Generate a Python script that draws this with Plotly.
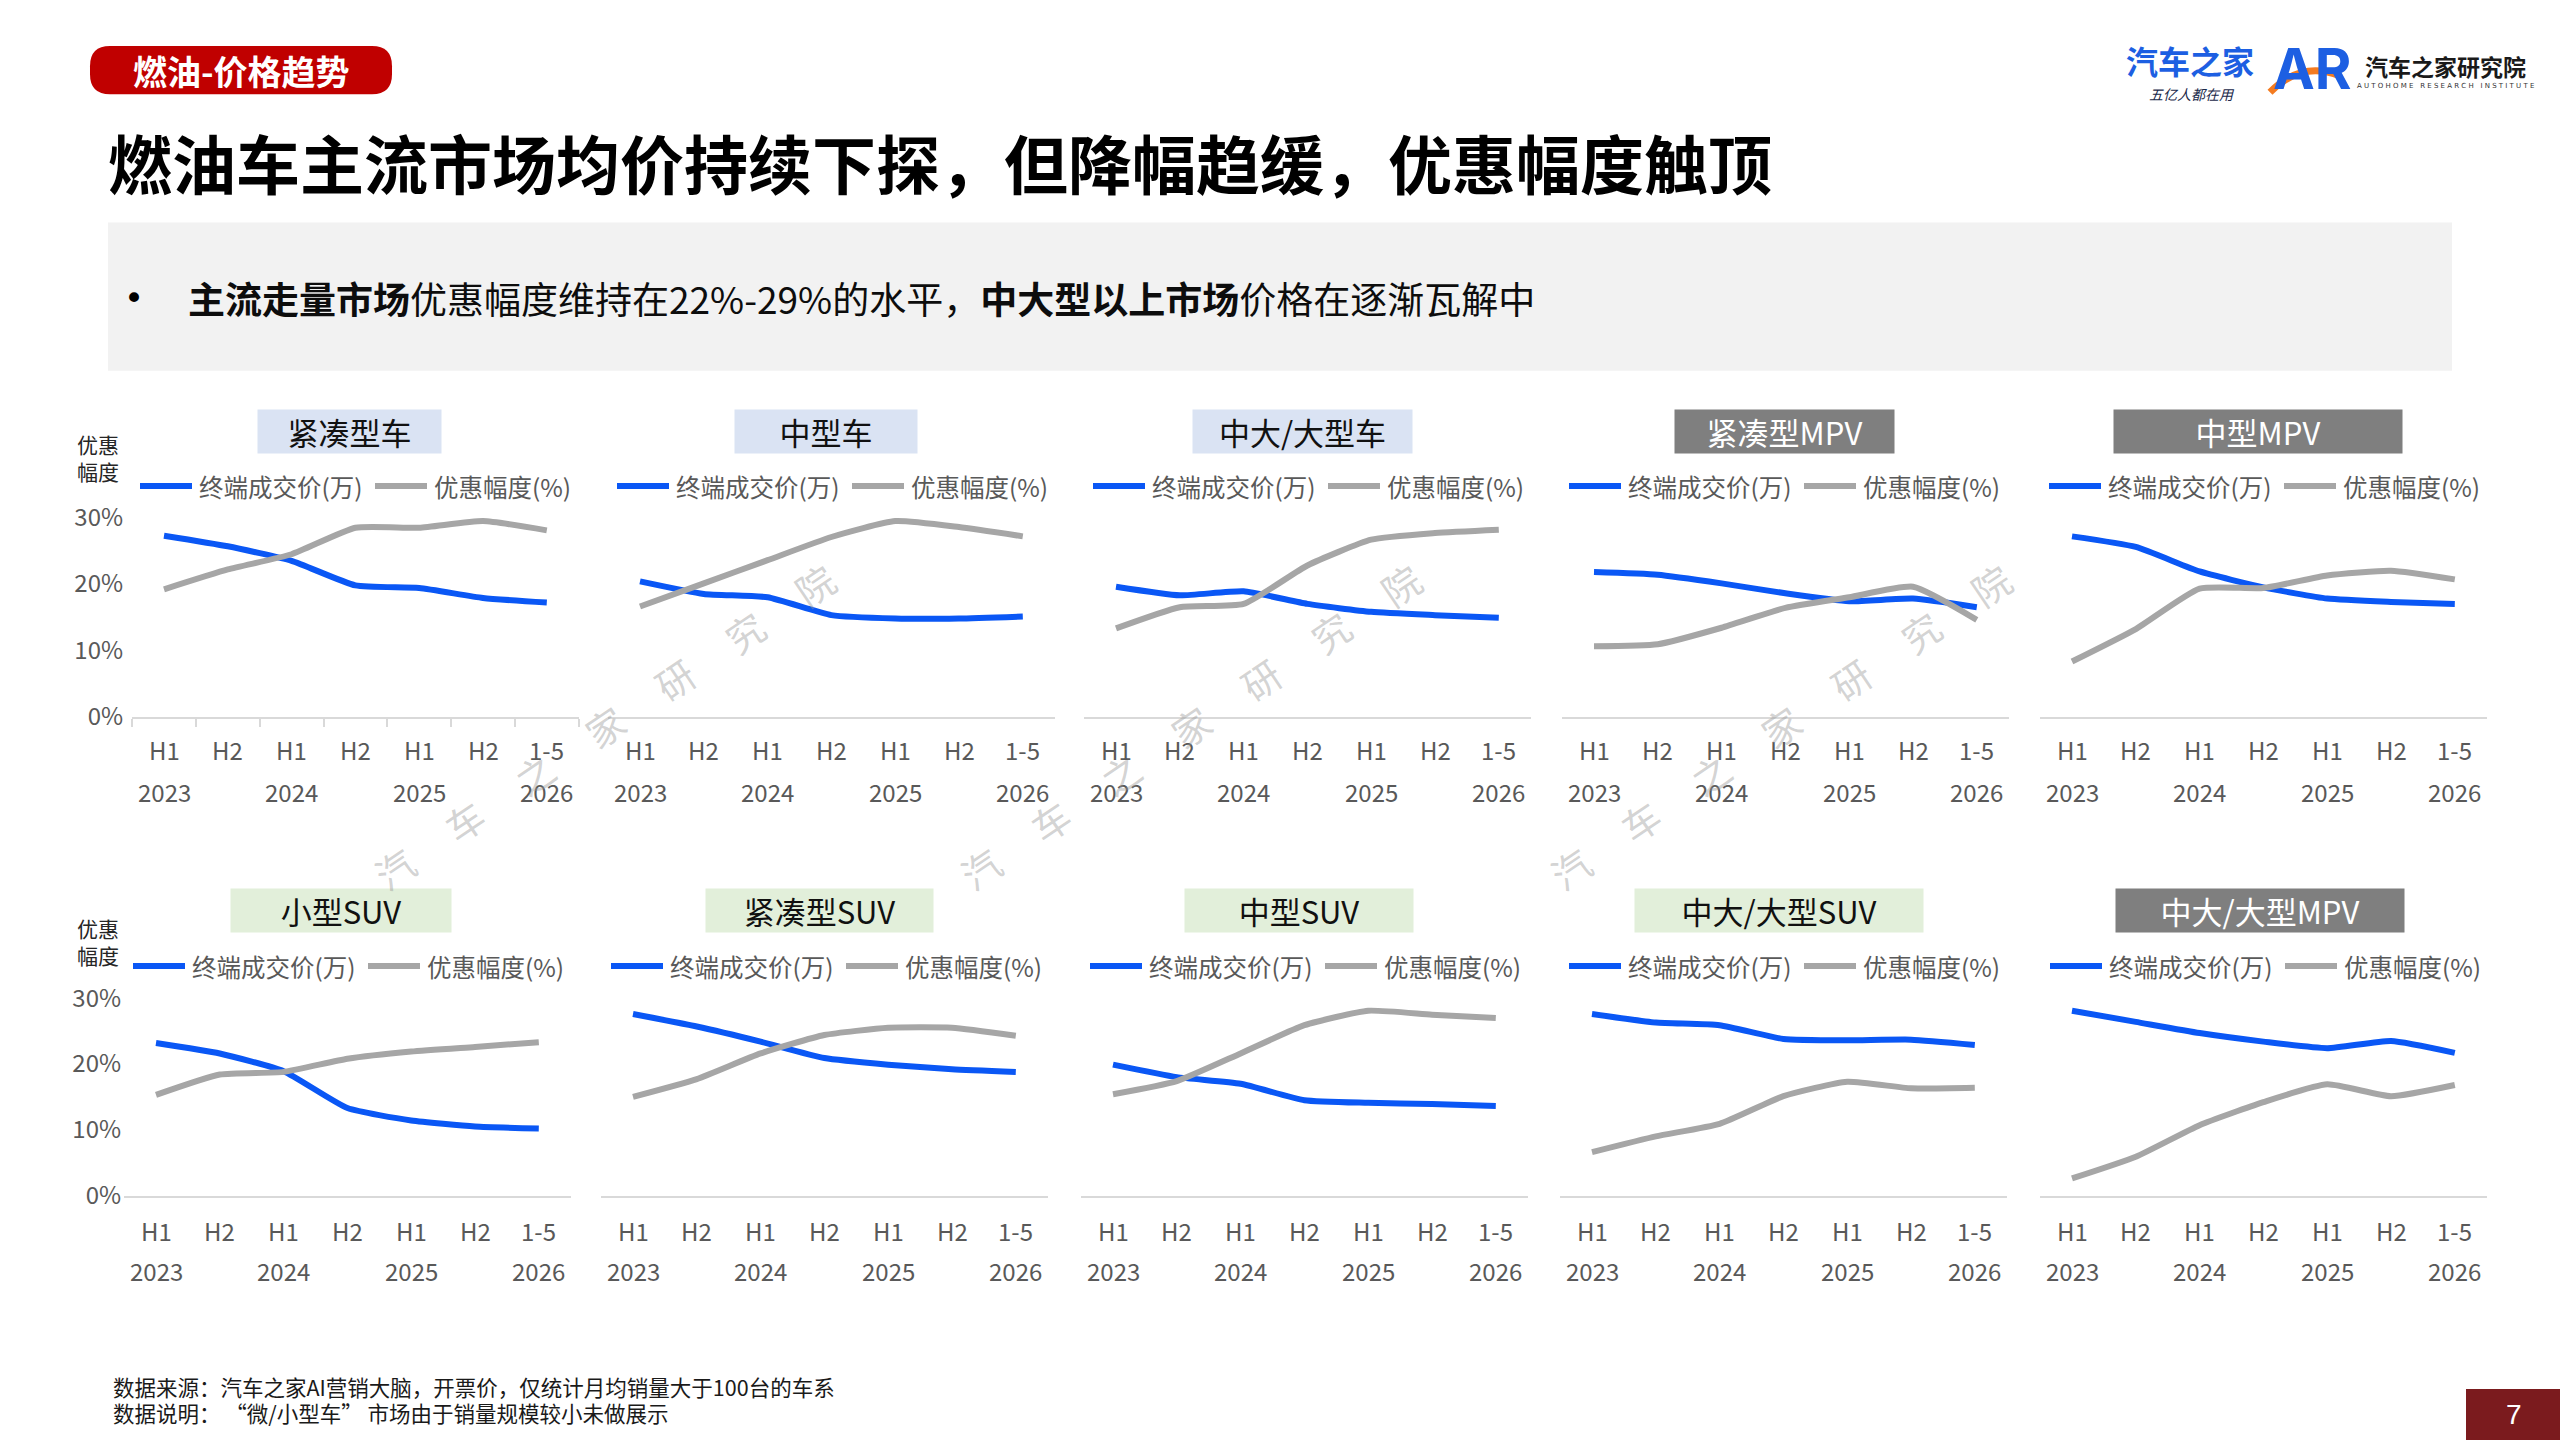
import plotly.graph_objects as go

W, H = 2560, 1440
FONT = "Noto Sans CJK SC"

# ---------------- data ----------------
periods = ["H1", "H2", "H1", "H2", "H1", "H2", "1-5"]
years = ["2023", "", "2024", "", "2025", "", "2026"]
y_tick_vals = [0, 10, 20, 30]
y_tick_text = ["0%", "10%", "20%", "30%"]
legend_names = ["终端成交价(万)", "优惠幅度(%)"]

panel_titles = ["紧凑型车", "中型车", "中大/大型车", "紧凑型MPV", "中型MPV",
                "小型SUV", "紧凑型SUV", "中型SUV", "中大/大型SUV", "中大/大型MPV"]

price_compact_car = [27.3, 25.7, 23.5, 19.8, 19.4, 17.9, 17.2]
disc_compact_car = [19.2, 22.2, 24.5, 28.5, 28.5, 29.5, 28.1]
price_mid_car = [20.4, 18.5, 18.0, 15.3, 14.8, 14.8, 15.1]
disc_mid_car = [16.6, 20.1, 23.6, 27.1, 29.5, 28.6, 27.2]
price_large_car = [19.6, 18.3, 18.9, 17.0, 15.8, 15.3, 14.9]
disc_large_car = [13.3, 16.5, 17.0, 22.8, 26.7, 27.7, 28.2]
price_compact_mpv = [21.8, 21.4, 20.1, 18.6, 17.4, 17.8, 16.5]
disc_compact_mpv = [10.6, 10.9, 13.4, 16.4, 18.0, 19.6, 14.6]
price_mid_mpv = [27.2, 25.6, 21.9, 19.5, 17.8, 17.3, 17.0]
disc_mid_mpv = [8.3, 13.2, 19.3, 19.4, 21.3, 22.0, 20.7]
price_small_suv = [23.2, 21.6, 18.9, 13.3, 11.4, 10.5, 10.2]
disc_small_suv = [15.3, 18.4, 18.8, 20.8, 21.9, 22.6, 23.3]
price_compact_suv = [27.6, 25.7, 23.4, 20.9, 19.9, 19.2, 18.8]
disc_compact_suv = [15.0, 17.7, 21.6, 24.4, 25.5, 25.5, 24.3]
price_mid_suv = [19.9, 18.0, 17.0, 14.5, 14.1, 13.9, 13.6]
disc_mid_suv = [15.4, 17.4, 21.6, 25.9, 28.1, 27.5, 27.0]
price_large_suv = [27.6, 26.3, 25.9, 23.8, 23.6, 23.7, 22.9]
disc_large_suv = [6.6, 9.0, 10.9, 15.1, 17.3, 16.3, 16.4]
price_large_mpv = [28.1, 26.4, 24.7, 23.4, 22.4, 23.5, 21.7]
disc_large_mpv = [2.6, 5.9, 10.7, 14.2, 16.9, 15.1, 16.8]

price_series = [price_compact_car, price_mid_car, price_large_car, price_compact_mpv, price_mid_mpv,
                price_small_suv, price_compact_suv, price_mid_suv, price_large_suv, price_large_mpv]
disc_series = [disc_compact_car, disc_mid_car, disc_large_car, disc_compact_mpv, disc_mid_mpv,
               disc_small_suv, disc_compact_suv, disc_mid_suv, disc_large_suv, disc_large_mpv]

# ---------------- styles / layout geometry ----------------
BLUE = "#0a57f5"
GRAY = "#a6a6a6"
AXIS = "#d9d9d9"
TICK = "#595959"

title_bg = ["#dae3f3"] * 3 + ["#7f7f7f"] * 2 + ["#e2efda"] * 4 + ["#7f7f7f"]
title_fg = ["#111111"] * 3 + ["#ffffff"] * 2 + ["#111111"] * 4 + ["#ffffff"]
first_pt = [164, 640, 1116, 1594, 2072, 156, 633, 1113, 1592, 2072]
title_cx = [349.5, 826, 1302.5, 1784.5, 2258, 341, 819.5, 1299, 1779, 2260]
title_w = [183, 182, 219, 219, 288, 220, 227, 228, 288, 288]
legend_L = [140, 617, 1093, 1569, 2049, 133, 611, 1090, 1569, 2050]
STEP = 63.8
row_y0 = [717, 1195]       # pixel y of value 0
row_y32 = [505.5, 985]     # pixel y of value 32
row_title_y = [432.5, 910.5]
row_legend_y = [487, 966]
row_tick1_y = [750, 1230]
row_tick2_y = [792, 1270]
row_ytitle_y = [459, 942]

# the rendered page places the figure's paper between these screen rows
SCR_TOP, SCR_SPAN = 8.0, 1416.0


def px(x):
    return x / W


def py(y):
    return 1 - (y - SCR_TOP) / SCR_SPAN


fig = go.Figure()
annotations = []
shapes = []
layout_axes = {}


def note(x, y, text, size, color, xanchor="center", yanchor="middle", **kw):
    font = dict(size=size, color=color)
    if "family" in kw:
        font["family"] = kw.pop("family")
    d = dict(x=px(x), y=py(y), xref="paper", yref="paper", text=text, showarrow=False,
             xanchor=xanchor, yanchor=yanchor, font=font)
    d.update(kw)
    annotations.append(d)


for i in range(10):
    row = 0 if i < 5 else 1
    n = "" if i == 0 else str(i + 1)
    xa, ya = "x" + n, "y" + n
    xs = list(range(len(periods)))
    fig.add_trace(go.Scatter(x=xs, y=price_series[i], mode="lines", name=legend_names[0],
                             line=dict(color=BLUE, width=6, shape="spline", smoothing=0.5),
                             xaxis=xa, yaxis=ya, showlegend=False, hoverinfo="skip"))
    fig.add_trace(go.Scatter(x=xs, y=disc_series[i], mode="lines", name=legend_names[1],
                             line=dict(color=GRAY, width=6, shape="spline", smoothing=0.5),
                             xaxis=xa, yaxis=ya, showlegend=False, hoverinfo="skip"))
    x0 = first_pt[i] - STEP / 2
    x1 = first_pt[i] + STEP * 6.5
    xaxis = dict(domain=[px(x0), px(x1)], range=[-0.5, 6.5], anchor=ya,
                 showline=True, linecolor=AXIS, linewidth=2, showgrid=False, zeroline=False,
                 showticklabels=False, fixedrange=True)
    if i == 0:
        xaxis.update(ticks="outside", tickvals=[k - 0.5 for k in range(8)], ticklen=8,
                     tickcolor=AXIS, tickwidth=2)
    else:
        xaxis.update(ticks="")
    yaxis = dict(domain=[py(row_y0[row]), py(row_y32[row])], range=[0, 32], anchor=xa,
                 showgrid=False, zeroline=False, showline=False, fixedrange=True, ticks="")
    if i in (0, 5):
        yaxis.update(showticklabels=True, tickvals=y_tick_vals, ticktext=y_tick_text,
                     tickfont=dict(size=24, color=TICK, family=FONT),
                     ticklabelstandoff=8 if i == 0 else 2)
    else:
        yaxis.update(showticklabels=False)
    layout_axes["xaxis" + n] = xaxis
    layout_axes["yaxis" + n] = yaxis

    # x tick labels (two rows)
    for k in range(len(periods)):
        annotations.append(dict(x=k, xref=xa, y=py(row_tick1_y[row]), yref="paper",
                                text=periods[k], showarrow=False, xanchor="center", yanchor="middle",
                                font=dict(size=24, color=TICK)))
        if years[k]:
            annotations.append(dict(x=k, xref=xa, y=py(row_tick2_y[row]), yref="paper",
                                    text=years[k], showarrow=False, xanchor="center", yanchor="middle",
                                    font=dict(size=24, color=TICK)))
    # panel title box
    note(title_cx[i], row_title_y[row], panel_titles[i], 31, title_fg[i],
         width=title_w[i], height=43, bgcolor=title_bg[i], borderpad=0)
    # legend
    L = legend_L[i]
    ly = py(row_legend_y[row])
    shapes.append(dict(type="line", xref="paper", yref="paper", x0=px(L), x1=px(L + 52), y0=ly, y1=ly,
                       line=dict(color=BLUE, width=6)))
    shapes.append(dict(type="line", xref="paper", yref="paper", x0=px(L + 235), x1=px(L + 287), y0=ly, y1=ly,
                       line=dict(color=GRAY, width=6)))
    note(L + 57, row_legend_y[row], legend_names[0], 24.5, TICK, xanchor="left")
    note(L + 292, row_legend_y[row], legend_names[1], 24.5, TICK, xanchor="left")

# y-axis titles
for row in range(2):
    note(98, row_ytitle_y[row], "优惠<br>幅度", 21, "#262626")

# watermark
WM = "\u3000\u00a0".join(list("汽车之家研究院"))
for cx in [604, 1190, 1780]:
    note(cx, 727, WM, 38, "rgba(150,150,150,0.42)", textangle=-34)


def rrect(x0, y0, x1, y1, r):
    p = lambda x, y: f"{px(x):.6f},{py(y):.6f}"
    return (f"M{p(x0 + r, y0)} L{p(x1 - r, y0)} Q{p(x1, y0)} {p(x1, y0 + r)} "
            f"L{p(x1, y1 - r)} Q{p(x1, y1)} {p(x1 - r, y1)} L{p(x0 + r, y1)} "
            f"Q{p(x0, y1)} {p(x0, y1 - r)} L{p(x0, y0 + r)} Q{p(x0, y0)} {p(x0 + r, y0)} Z")


# header pill
shapes.append(dict(type="path", xref="paper", yref="paper", path=rrect(90, 48, 392, 96, 20),
                   fillcolor="#c00000", line=dict(width=0), layer="below"))
note(241, 72, "<b>燃油-价格趋势</b>", 34, "white")
# main title
note(106, 163, "<b>燃油车主流市场均价持续下探，但降幅趋缓，优惠幅度触顶</b>", 64, "#000000", xanchor="left")
# gray summary box
shapes.append(dict(type="rect", xref="paper", yref="paper", x0=px(108), x1=px(2452), y0=py(224), y1=py(372),
                   fillcolor="#f2f2f2", line=dict(width=0), layer="below"))
note(134, 299, "•", 34, "#000000", family="DejaVu Sans")
note(186, 299, "<b>主流走量市场</b>优惠幅度维持在22%-29%的水平，<b>中大型以上市场</b>价格在逐渐瓦解中",
     37, "#0d0d0d", xanchor="left")

# logos
note(2190, 62, "<b>汽车之家</b>", 32, "#1d5fe2")
note(2192, 96, "<i>五亿人都在用</i>", 14, "#1b2a4a")
note(2312, 71, "<b>AR</b>", 56, "#1d5fe2", family="Inter")
shapes.append(dict(type="path", xref="paper", yref="paper",
                   path=f"M{px(2270):.6f},{py(94):.6f} Q{px(2302):.6f},{py(62):.6f} {px(2340):.6f},{py(78):.6f}",
                   line=dict(color="#f47b20", width=7), layer="above"))
note(2445, 68, "<b>汽车之家研究院</b>", 23, "#1a1a1a")
note(2445, 88, "A U T O H O M E \u00a0 R E S E A R C H \u00a0 I N S T I T U T E", 7, "#333333",
     family="DejaVu Sans")

# footer
note(111, 1386, "数据来源：汽车之家AI营销大脑，开票价，仅统计月均销量大于100台的车系", 21.5, "#1a1a1a", xanchor="left")
note(111, 1412, "数据说明：\u00a0“微/小型车”\u00a0市场由于销量规模较小未做展示", 21.5, "#1a1a1a", xanchor="left")
# page number
shapes.append(dict(type="rect", xref="paper", yref="paper", x0=px(2466), x1=1, y0=py(1388), y1=py(1440),
                   fillcolor="#7b1b1e", line=dict(width=0)))
note(2514, 1414, "7", 28, "white", family="Liberation Sans")

fig.update_layout(
    width=W, height=H, margin=dict(l=0, r=0, t=0, b=0),
    paper_bgcolor="white", plot_bgcolor="rgba(0,0,0,0)",
    font=dict(family=FONT, color="#262626"),
    showlegend=False,
    annotations=annotations, shapes=shapes,
    **layout_axes,
)

fig.write_html("out.html", config={"displayModeBar": False})
